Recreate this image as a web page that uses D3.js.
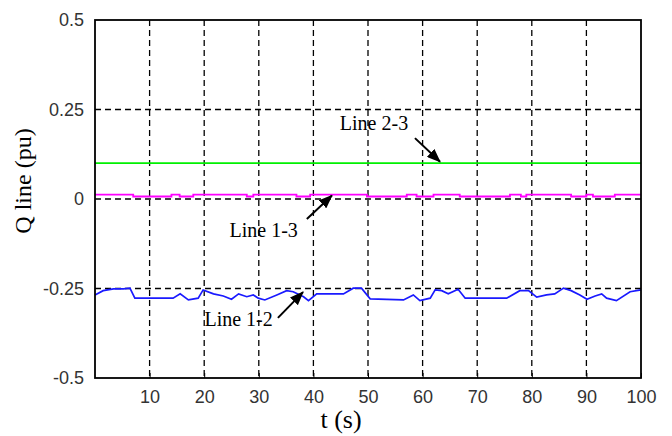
<!DOCTYPE html>
<html>
<head>
<meta charset="utf-8">
<script src="https://cdn.jsdelivr.net/npm/d3@7"></script>
<style>
  body { margin: 0; background: #fff; }
  svg { display: block; }
</style>
</head>
<body>
<svg width="672" height="436"></svg>
<script>
// Data
const xTicks = [10, 20, 30, 40, 50, 60, 70, 80, 90, 100];
const yTicks = [0.5, 0.25, 0, -0.25, -0.5];
const yTickLabels = ["0.5", "0.25", "0", "-0.25", "-0.5"];

// Line 2-3 (green, constant)
const line23T = [0, 100];
const line23V = [0.1, 0.1];

// Line 1-3 (magenta, small steps near zero)
const line13T = [0, 7, 14, 15.5, 18, 27.8, 29, 36.9, 39.4, 49.8, 57.1, 58.9, 62, 66.8, 76, 78, 79, 87.2, 90, 91.2, 95.2, 100];
const line13V = [0.012, 0.007, 0.012, 0.007, 0.012, 0.007, 0.012, 0.007, 0.012, 0.007, 0.012, 0.007, 0.012, 0.007, 0.012, 0.007, 0.012, 0.007, 0.012, 0.007, 0.012, 0.012];

// Line 1-2 (blue)
const line12T = [0, 1.5, 3.4, 5.2, 6.4, 7.3, 14.3, 15.6, 17.1, 18.9, 19.8, 21.7, 23.5, 25.0, 26.3, 27.8, 29.0, 29.9, 31.1, 33.3,
                 35.1, 36.3, 38.2, 39.1, 40.6, 45.5, 47.3, 48.8, 50.4, 56.5, 58.3, 59.5, 61.4, 62.3, 63.5, 64.7, 66.5, 67.8, 75.4, 77.8,
                 79.4, 80.9, 82.7, 84.2, 85.8, 87.2, 88.8, 90.1, 91.6, 92.8, 93.7, 95.5, 98.0, 100];
const line12V = [-0.268, -0.256, -0.251, -0.251, -0.249, -0.277, -0.277, -0.265, -0.282, -0.277, -0.254, -0.265, -0.271, -0.280, -0.265, -0.273, -0.268, -0.277, -0.282, -0.268,
                 -0.256, -0.259, -0.273, -0.284, -0.265, -0.265, -0.249, -0.249, -0.279, -0.282, -0.268, -0.284, -0.277, -0.254, -0.256, -0.265, -0.252, -0.277, -0.277, -0.256,
                 -0.256, -0.274, -0.268, -0.265, -0.249, -0.256, -0.268, -0.280, -0.271, -0.265, -0.277, -0.284, -0.259, -0.254];

// Annotations: label position, arrow start, arrow tip (data units)
const notes = [
    { text: "Line 2-3", tx: 51.1, ty: 0.193, x1: 58.6, y1: 0.170, x2: 63.2, y2: 0.104 },
    { text: "Line 1-3", tx: 30.9, ty: -0.106, x1: 38.8, y1: -0.056, x2: 43.4, y2: 0.010 },
    { text: "Line 1-2", tx: 26.3, ty: -0.355, x1: 33.5, y1: -0.332, x2: 38.1, y2: -0.260 }
];

const svg = d3.select("svg"),
    width = +svg.attr("width"),
    height = +svg.attr("height");

const margin = { top: 20, right: 31, bottom: 58, left: 95 };

const x = d3.scaleLinear().domain([0, 100]).range([margin.left, width - margin.right]);
const y = d3.scaleLinear().domain([-0.5, 0.5]).range([height - margin.bottom, margin.top]);

// Arrow head
svg.append("defs").append("marker")
    .attr("id", "head")
    .attr("viewBox", "0 0 14 11")
    .attr("refX", 13)
    .attr("refY", 5.5)
    .attr("markerWidth", 14)
    .attr("markerHeight", 11)
    .attr("markerUnits", "userSpaceOnUse")
    .attr("orient", "auto")
    .append("path")
    .attr("d", "M0,0 L14,5.5 L0,11 Z")
    .attr("fill", "#000");

// Grid (dashed)
const grid = svg.append("g")
    .attr("stroke", "#000")
    .attr("stroke-width", 1.3)
    .attr("stroke-dasharray", "6,4");

grid.selectAll("line.v")
    .data(xTicks.filter(d => d < 100))
    .join("line")
    .attr("class", "v")
    .attr("x1", d => x(d)).attr("x2", d => x(d))
    .attr("y1", y(0.5)).attr("y2", y(-0.5));

grid.selectAll("line.h")
    .data(yTicks.filter(d => d > -0.5 && d < 0.5))
    .join("line")
    .attr("class", "h")
    .attr("x1", x(0)).attr("x2", x(100))
    .attr("y1", d => y(d)).attr("y2", d => y(d));

// Series
const line = d3.line().x(d => x(d[0])).y(d => y(d[1]));
const stepLine = d3.line().x(d => x(d[0])).y(d => y(d[1])).curve(d3.curveStepAfter);

svg.append("path")
    .datum(d3.zip(line23T, line23V))
    .attr("d", line)
    .attr("fill", "none")
    .attr("stroke", "#00f000")
    .attr("stroke-width", 1.8);

svg.append("path")
    .datum(d3.zip(line13T, line13V))
    .attr("d", stepLine)
    .attr("fill", "none")
    .attr("stroke", "#ff00ff")
    .attr("stroke-width", 1.8);

svg.append("path")
    .datum(d3.zip(line12T, line12V))
    .attr("d", line)
    .attr("fill", "none")
    .attr("stroke", "#1a1aff")
    .attr("stroke-width", 1.7);

// Axes (ticks inside, labels outside)
const xAxis = svg.append("g")
    .attr("transform", `translate(0,${y(-0.5)})`)
    .call(d3.axisBottom(x).tickValues(xTicks).tickSize(-5).tickPadding(12).tickFormat(d3.format("d")));

const yAxis = svg.append("g")
    .attr("transform", `translate(${x(0)},0)`)
    .call(d3.axisLeft(y).tickValues(yTicks).tickSize(0).tickPadding(11)
        .tickFormat((d, i) => yTickLabels[i]));

[xAxis, yAxis].forEach(a => {
    a.select(".domain").remove();
    a.selectAll("text")
        .attr("fill", "#333")
        .style("font-family", "'Liberation Sans', Arial, sans-serif")
        .style("font-size", "18px");
    a.selectAll(".tick line").attr("stroke", "#000");
});

// Border
svg.append("rect")
    .attr("x", x(0))
    .attr("y", y(0.5))
    .attr("width", x(100) - x(0))
    .attr("height", y(-0.5) - y(0.5))
    .style("fill", "none")
    .style("stroke", "#000")
    .style("stroke-width", "1.8px");

// Axis titles
svg.append("text")
    .attr("x", 341)
    .attr("y", 428)
    .attr("text-anchor", "middle")
    .style("font-family", "'Liberation Serif', 'Times New Roman', serif")
    .style("font-size", "26px")
    .text("t (s)");

svg.append("text")
    .attr("transform", "translate(31,181) rotate(-90)")
    .attr("text-anchor", "middle")
    .style("font-family", "'Liberation Serif', 'Times New Roman', serif")
    .style("font-size", "24px")
    .text("Q line (pu)");

// Annotations
const ann = svg.append("g");
ann.selectAll("text")
    .data(notes)
    .join("text")
    .attr("x", d => x(d.tx))
    .attr("y", d => y(d.ty))
    .attr("text-anchor", "middle")
    .style("font-family", "'Liberation Serif', 'Times New Roman', serif")
    .style("font-size", "20px")
    .text(d => d.text);

ann.selectAll("line")
    .data(notes)
    .join("line")
    .attr("x1", d => x(d.x1)).attr("y1", d => y(d.y1))
    .attr("x2", d => x(d.x2)).attr("y2", d => y(d.y2))
    .attr("stroke", "#000")
    .attr("stroke-width", 2)
    .attr("marker-end", "url(#head)");
</script>
</body>
</html>
